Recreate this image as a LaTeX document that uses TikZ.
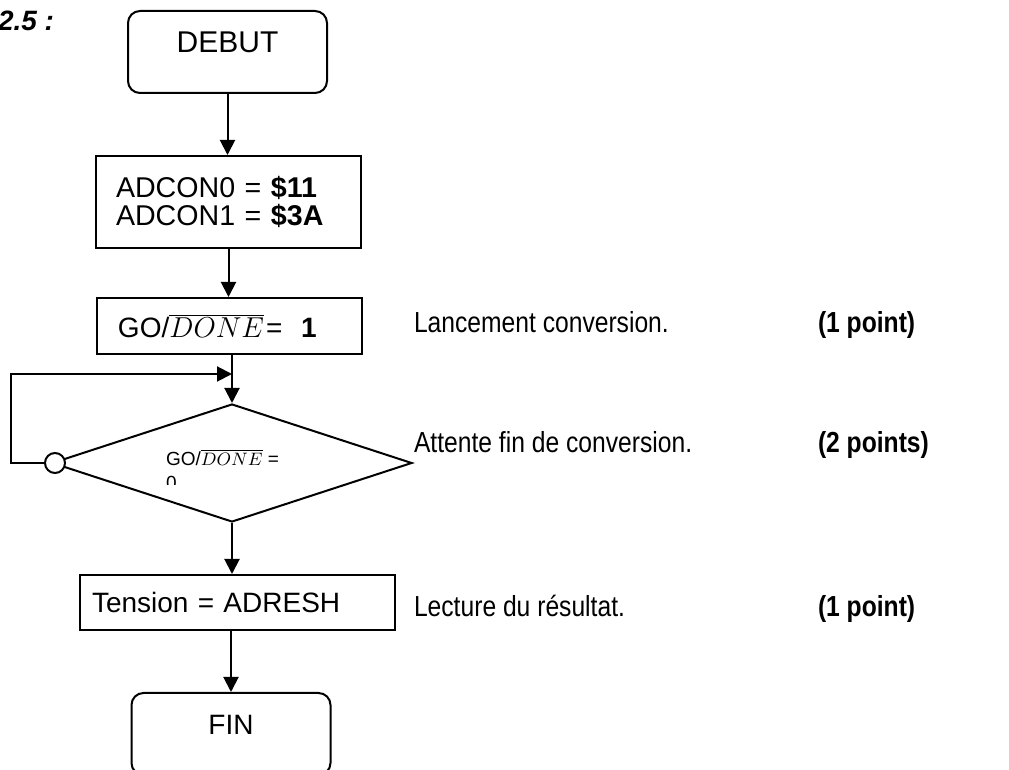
\documentclass[tikz,border=0pt]{standalone}
\usepackage{fontspec}
\setmainfont{Liberation Sans}
\newfontfamily\narrowfont[FakeStretch=0.85]{Liberation Sans}
\usetikzlibrary{shapes.geometric,arrows.meta}

\begin{document}
\begin{tikzpicture}[x=0.5pt,y=-0.5pt,line width=1pt,
  font=\fontsize{14}{14}\selectfont,
  startstop/.style={draw,rounded corners=6pt,inner sep=0pt,minimum width=99.5pt,
    text height=21pt,text depth=20pt,anchor=base},
  process/.style={draw,align=left,inner ysep=0pt},
  decision/.style={draw,diamond,inner sep=0pt,minimum width=180pt,minimum height=59pt},
  comment/.style={anchor=base west,inner sep=0pt,font=\narrowfont\fontsize{14.5}{16}\selectfont},
  points/.style={comment,font=\narrowfont\bfseries\fontsize{14.5}{16}\selectfont},
  arr/.style={-{Triangle[length=7.5pt,width=7.5pt]}}]

  \clip (0,0) rectangle (1009,770);

  \node[anchor=base west,inner sep=0pt,font=\bfseries\itshape\fontsize{14}{16}\selectfont] (num) at (-3,31) {2.5 :};

  % organigramme
  \node[startstop,font=\fontsize{15}{16}\selectfont] (debut) at (227.5,53) {DEBUT};
  \node[process,text width=112.5pt,inner xsep=10pt,minimum height=46pt,
    font=\fontsize{14.3}{14}\selectfont] (init) at (228.5,202)
    {ADCON0 = \textbf{\$11}\\ADCON1 = \textbf{\$3A}};
  \node[process,text width=111.5pt,inner xsep=10.5pt,minimum height=28pt] (start) at (229.5,326)
    {GO/$\overline{DONE}$\kern1pt=\ \ \textbf{1}};
  \node[decision] (wait) at (232,463) {};
  \node[draw,circle,fill=white,minimum size=10pt,inner sep=0pt] (inv) at (55,463) {};
  \node[process,text width=145.5pt,inner xsep=6pt,minimum height=27.5pt] (read) at (237.5,602.5)
    {Tension = ADRESH};
  \node[startstop] (fin) at (231,735) {FIN};
  \coordinate (join) at (232,374);

  \begin{scope}
    \clip (150,440) rectangle (300,485);
    \node[anchor=north west,inner sep=0pt,align=left,font=\fontsize{9.5}{12}\selectfont] (cond) at (165,448)
      {GO/$\overline{DONE}$ =\\0};
  \end{scope}

  \draw[arr] (debut.south) -- (debut.south |- init.north);
  \draw[arr] (init.south) -- (init.south |- start.north);
  \draw[arr] (wait.north |- start.south) -- (wait.north);
  \draw[arr] (inv.west) -- ++(-33,0) |- (join);
  \draw[arr] (wait.south) -- (wait.south |- read.north);
  \draw[arr] (fin.north |- read.south) -- (fin.north);

  % commentaires
  \node[comment] (c1) at (413,333) {Lancement conversion.};
  \node[comment] (c2) at (413,453) {Attente fin de conversion.};
  \node[comment] (c3) at (413,617) {Lecture du résultat.};
  \node[points] (p1) at (817,333) {(1 point)};
  \node[points] (p2) at (817,453) {(2 points)};
  \node[points] (p3) at (817,617) {(1 point)};

\end{tikzpicture}
\end{document}
